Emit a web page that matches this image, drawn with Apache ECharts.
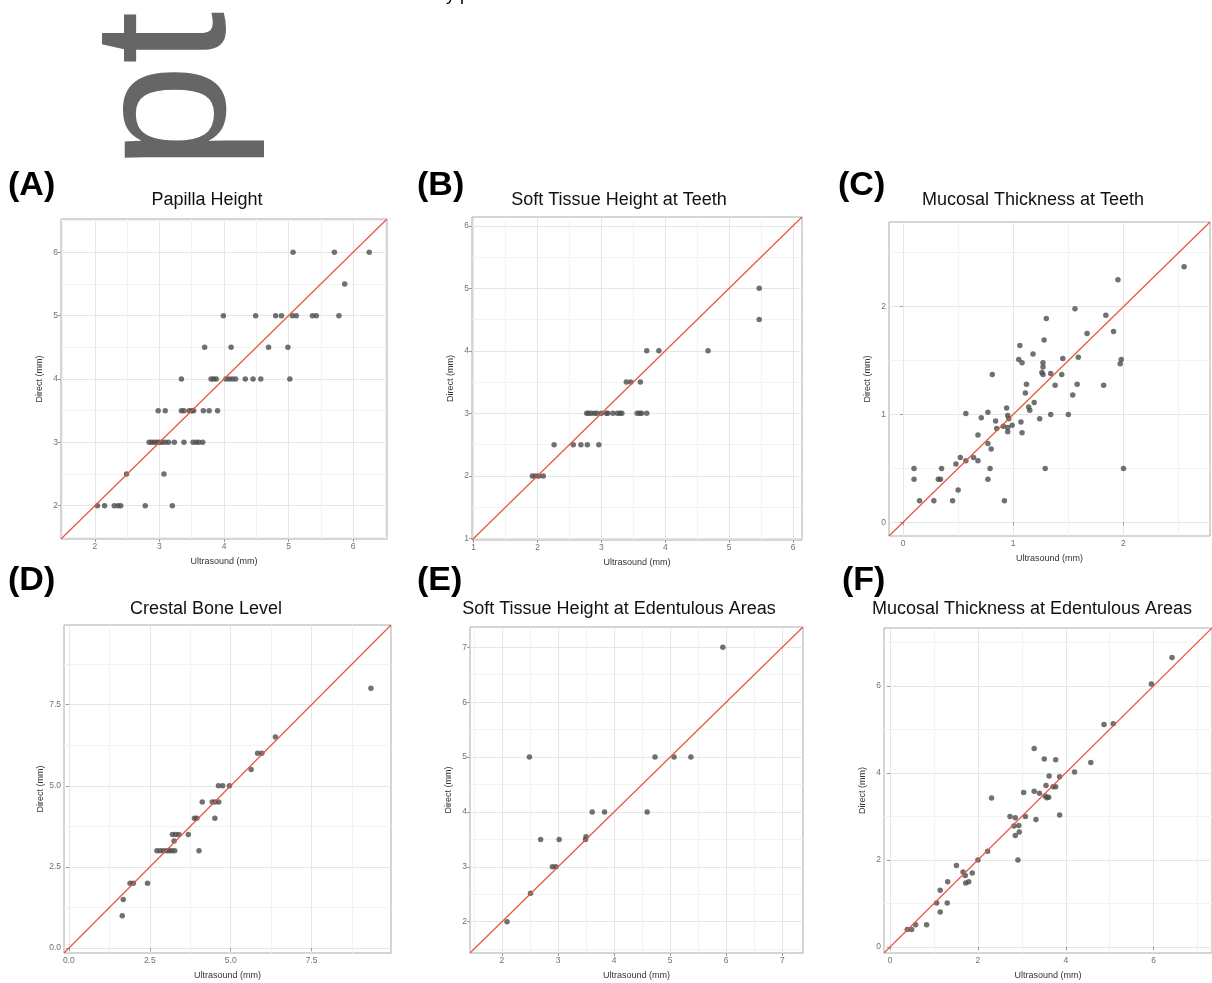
<!DOCTYPE html>
<html>
<head>
<meta charset="utf-8">
<script src="https://cdn.jsdelivr.net/npm/echarts@6/dist/echarts.min.js"></script>
<style>
html,body{margin:0;padding:0;background:#fff;}
#chart{width:1212px;height:983px;}
</style>
</head>
<body>
<div id="chart"></div>
<script>
// ---------------- DATA ----------------
const panelTags = ['(A)', '(B)', '(C)', '(D)', '(E)', '(F)'];
const panelTitles = ['Papilla Height', 'Soft Tissue Height at Teeth', 'Mucosal Thickness at Teeth',
  'Crestal Bone Level', 'Soft Tissue Height at Edentulous Areas', 'Mucosal Thickness at Edentulous Areas'];
const xAxisTitle = 'Ultrasound (mm)';
const yAxisTitle = 'Direct (mm)';

// axis limits (same for x and y in each panel)
const rangeA = [1.475, 6.525];
const rangeB = [0.975, 6.14];
const rangeC = [-0.127, 2.785];
const rangeD = [-0.15, 9.95];
const rangeE = [1.43, 7.37];
const rangeF = [-0.14, 7.33];

// tick values
const ticksA = [2, 3, 4, 5, 6];
const ticksB = [1, 2, 3, 4, 5, 6];
const ticksC = [0, 1, 2];
const ticksD = [0, 2.5, 5, 7.5];
const ticksE = [2, 3, 4, 5, 6, 7];
const ticksF = [0, 2, 4, 6];

// [ultrasound, direct]
const papillaHeight = [
  [5.07,6],[5.71,6],[6.25,6],[5.87,5.5],
  [3.99,5],[4.49,5],[4.80,5],[4.89,5],[5.06,5],[5.12,5],[5.37,5],[5.43,5],[5.78,5],
  [3.70,4.5],[4.11,4.5],[4.69,4.5],[4.99,4.5],
  [3.34,4],[3.80,4],[3.84,4],[3.88,4],[4.03,4],[4.08,4],[4.13,4],[4.18,4],[4.33,4],[4.45,4],[4.57,4],[5.02,4],
  [2.98,3.5],[3.09,3.5],[3.34,3.5],[3.38,3.5],[3.46,3.5],[3.50,3.5],[3.53,3.5],[3.68,3.5],[3.77,3.5],[3.90,3.5],
  [2.84,3],[2.88,3],[2.92,3],[2.96,3],[3.00,3],[3.04,3],[3.09,3],[3.14,3],[3.23,3],[3.38,3],[3.52,3],[3.57,3],[3.61,3],[3.67,3],
  [2.49,2.5],[3.07,2.5],
  [2.04,2],[2.15,2],[2.30,2],[2.36,2],[2.40,2],[2.78,2],[3.20,2]
];
const softTissueTeeth = [
  [5.47,5],[5.47,4.5],[3.71,4],[3.90,4],[4.67,4],
  [3.39,3.5],[3.46,3.5],[3.61,3.5],
  [2.77,3],[2.80,3],[2.84,3],[2.89,3],[2.93,3],[3.00,3],[3.08,3],[3.10,3],[3.18,3],[3.25,3],[3.29,3],[3.32,3],
  [3.56,3],[3.60,3],[3.63,3],[3.71,3],
  [2.26,2.5],[2.56,2.5],[2.68,2.5],[2.78,2.5],[2.96,2.5],
  [1.92,2],[1.97,2],[2.02,2],[2.09,2]
];
const mucosalTeeth = [
  [2.55,2.37],[1.95,2.25],[1.56,1.98],[1.84,1.92],[1.30,1.89],[1.67,1.75],[1.91,1.77],[1.28,1.69],
  [1.06,1.64],[1.18,1.56],[1.05,1.51],[1.08,1.48],[1.27,1.48],[1.27,1.44],[1.26,1.39],[1.27,1.37],
  [1.45,1.52],[1.59,1.53],[1.34,1.38],[1.44,1.37],[1.98,1.51],[1.97,1.47],[0.81,1.37],[1.12,1.28],
  [1.38,1.27],[1.58,1.28],[1.82,1.27],[1.11,1.20],[1.19,1.11],[1.54,1.18],[1.14,1.07],[1.15,1.04],
  [0.94,1.06],[0.57,1.01],[0.77,1.02],[0.71,0.97],[0.95,0.99],[0.96,0.96],[0.84,0.94],[1.24,0.96],
  [1.34,1.00],[1.50,1.00],[1.07,0.93],[0.91,0.89],[0.85,0.87],[0.95,0.88],[0.99,0.90],[0.95,0.84],
  [1.08,0.83],[0.68,0.81],[0.77,0.73],[0.80,0.68],[0.64,0.60],[0.52,0.60],[0.57,0.57],[0.68,0.57],
  [0.48,0.54],[0.10,0.50],[0.35,0.50],[0.79,0.50],[1.29,0.50],[2.00,0.50],
  [0.10,0.40],[0.32,0.40],[0.34,0.40],[0.77,0.40],[0.50,0.30],
  [0.15,0.20],[0.28,0.20],[0.45,0.20],[0.92,0.20]
];
const crestalBone = [
  [9.33,8.0],[6.38,6.5],[5.83,6.0],[5.96,6.0],[5.63,5.5],[4.62,5.0],[4.75,5.0],[4.96,5.0],
  [4.12,4.5],[4.43,4.5],[4.52,4.5],[4.63,4.5],[3.88,4.0],[3.95,4.0],[4.51,4.0],
  [3.20,3.5],[3.30,3.5],[3.40,3.5],[3.69,3.5],[3.25,3.3],
  [2.72,3.0],[2.82,3.0],[2.92,3.0],[3.02,3.0],[3.10,3.0],[3.18,3.0],[3.27,3.0],[4.02,3.0],
  [1.89,2.0],[1.99,2.0],[2.43,2.0],[1.68,1.5],[1.65,1.0]
];
const softTissueEdentulous = [
  [5.94,7],[2.49,5],[4.73,5],[5.07,5],[5.37,5],[3.61,4],[3.83,4],[4.59,4],
  [2.69,3.5],[3.02,3.5],[3.49,3.5],[3.50,3.55],[2.90,3],[2.96,3],[2.51,2.52],[2.09,2]
];
const mucosalEdentulous = [
  [6.42,6.65],[5.95,6.04],[4.87,5.11],[5.08,5.13],[3.28,4.56],[3.51,4.32],[3.77,4.30],[4.57,4.24],
  [4.20,4.02],[3.62,3.93],[3.86,3.91],[3.55,3.71],[3.71,3.68],[3.77,3.68],[3.04,3.55],[3.28,3.58],
  [3.40,3.53],[3.53,3.47],[3.57,3.43],[3.61,3.44],[2.31,3.42],[2.73,3.00],[2.85,2.97],[3.08,3.00],
  [3.32,2.93],[3.86,3.03],[2.82,2.78],[2.93,2.79],[2.94,2.64],[2.85,2.56],[2.91,2.00],[2.22,2.20],
  [2.00,2.00],[1.51,1.87],[1.66,1.72],[1.71,1.64],[1.87,1.70],[1.72,1.47],[1.79,1.50],[1.31,1.50],
  [1.14,1.30],[1.06,1.01],[1.30,1.01],[1.14,0.80],[0.58,0.51],[0.83,0.51],[0.39,0.40],[0.49,0.40]
];

const allData = [papillaHeight, softTissueTeeth, mucosalTeeth, crestalBone, softTissueEdentulous, mucosalEdentulous];
const allRanges = [rangeA, rangeB, rangeC, rangeD, rangeE, rangeF];
const allTicks = [ticksA, ticksB, ticksC, ticksD, ticksE, ticksF];
const tickSteps = [1, 1, 1, 2.5, 1, 2];
const tickFormat = [null, null, null, v => v.toFixed(1), null, null];

// ---------------- LAYOUT ----------------
const layout = [
  {left: 61,  top: 219, width: 326, height: 320, titleX: 207,  titleY: 200.5, tagX: 8,   tagY: 186},
  {left: 472, top: 217, width: 330, height: 323, titleX: 619,  titleY: 200.5, tagX: 417, tagY: 186},
  {left: 889, top: 222, width: 321, height: 314, titleX: 1033, titleY: 200.5, tagX: 838, tagY: 186},
  {left: 64,  top: 625, width: 327, height: 328, titleX: 206,  titleY: 609,   tagX: 8,   tagY: 581},
  {left: 470, top: 627, width: 333, height: 326, titleX: 619,  titleY: 609,   tagX: 417, tagY: 581},
  {left: 884, top: 628, width: 330, height: 325, titleX: 1032, titleY: 609,   tagX: 842, tagY: 581}
];
const FONT = '"Liberation Sans", Arial, Helvetica, sans-serif';

const grids = [], xAxes = [], yAxes = [], series = [], graphics = [];

layout.forEach((L, i) => {
  grids.push({
    left: L.left, top: L.top, width: L.width, height: L.height,
    show: true, borderColor: '#ababab', borderWidth: 1, backgroundColor: '#fff', z: 0
  });
  const r = allRanges[i];
  const common = {
    gridIndex: i, type: 'value', min: r[0], max: r[1],
    minInterval: tickSteps[i], maxInterval: tickSteps[i],
    nameLocation: 'middle',
    nameTextStyle: {fontSize: 9, color: '#333', fontFamily: FONT},
    axisLine: {show: false},
    axisTick: {show: true, length: 3, lineStyle: {color: '#999', width: 1}, customValues: allTicks[i]},
    axisLabel: {customValues: allTicks[i], fontSize: 8.5, color: '#707070', fontFamily: FONT, margin: 3,
      formatter: tickFormat[i] || (v => String(v))},
    splitLine: {show: true, lineStyle: {color: '#e6e6e6', width: 1}},
    minorTick: {show: false, splitNumber: 2},
    minorSplitLine: {show: true, lineStyle: {color: '#f2f2f2', width: 1}}
  };
  xAxes.push(Object.assign({}, common, {name: xAxisTitle, nameGap: 18}));
  yAxes.push(Object.assign({}, common, {name: yAxisTitle, nameGap: 17}));

  series.push({
    type: 'scatter', xAxisIndex: i, yAxisIndex: i, data: allData[i],
    symbol: 'circle', symbolSize: 5.5, itemStyle: {color: '#4d4d4d'}, silent: true, z: 2
  });
  series.push({
    type: 'line', xAxisIndex: i, yAxisIndex: i,
    data: [[r[0], r[0]], [r[1], r[1]]],
    symbol: 'none', lineStyle: {color: '#e5553f', width: 1.2}, silent: true, z: 3, clip: true
  });

  graphics.push({
    type: 'text', x: L.titleX, y: L.titleY, silent: true,
    style: {text: panelTitles[i], font: '18px ' + FONT, fill: '#111', align: 'center', verticalAlign: 'middle'}
  });
  graphics.push({
    type: 'text', x: L.tagX, y: L.tagY, silent: true,
    style: {text: panelTags[i], font: 'bold 34px ' + FONT, fill: '#000', align: 'left', verticalAlign: 'middle'}
  });
});

// large rotated fragment at the top-left and clipped text at top
graphics.push({
  type: 'text', x: 173, y: 170, rotation: Math.PI / 2, silent: true,
  style: {text: 'pt', font: '190px ' + FONT, fill: '#666', align: 'left', verticalAlign: 'middle'}
});
graphics.push({
  type: 'text', x: 446, y: -14, silent: true,
  style: {text: 'y p', font: '18px ' + FONT, fill: '#000', align: 'left', verticalAlign: 'top'}
});

const chart = echarts.init(document.getElementById('chart'), null, {renderer: 'canvas'});
chart.setOption({
  backgroundColor: '#fff',
  animation: false,
  grid: grids,
  xAxis: xAxes,
  yAxis: yAxes,
  series: series,
  graphic: graphics
});
</script>
</body>
</html>
